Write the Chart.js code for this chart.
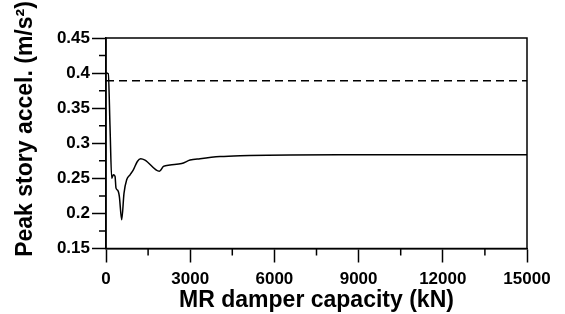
<!DOCTYPE html>
<html>
<head>
<meta charset="utf-8">
<script src="https://cdn.jsdelivr.net/npm/chart.js@4.4.1/dist/chart.umd.min.js"></script>
<style>
html,body{margin:0;padding:0;background:#fff;}
#wrap{width:565px;height:314px;position:relative;}
</style>
</head>
<body>
<div id="wrap"><canvas id="c" width="565" height="314"></canvas></div>
<script>
// Data (MR damper capacity in kN, peak story acceleration in m/s^2)
const capacityKN = [0, 82, 143, 203, 261, 321, 357, 417, 476, 559, 642, 737, 856, 974, 1117, 1236, 1390, 1902, 2045, 2282, 2697, 2995, 3351, 4064, 4777, 6560, 9000, 12000, 15000];
const peakAccel = [0.400, 0.399, 0.324, 0.250, 0.255, 0.253, 0.236, 0.233, 0.224, 0.191, 0.229, 0.248, 0.255, 0.262, 0.274, 0.278, 0.276, 0.260, 0.267, 0.269, 0.271, 0.276, 0.278, 0.281, 0.2823, 0.2833, 0.2835, 0.2835, 0.2835];
const uncontrolledX = [0, 15000];
const uncontrolledY = [0.389, 0.389];
const xTickValues = [0, 3000, 6000, 9000, 12000, 15000];
const yTickValues = [0.15, 0.2, 0.25, 0.3, 0.35, 0.4, 0.45];
const yTickLabels = ['0.15', '0.2', '0.25', '0.3', '0.35', '0.4', '0.45'];
const xTitle = 'MR damper capacity (kN)';
const yTitle = 'Peak story accel. (m/s\u00B2)';

const FONT = '"Liberation Sans", Arial, sans-serif';

const framePlugin = {
  id: 'frame',
  afterDraw(chart) {
    const ctx = chart.ctx;
    const a = chart.chartArea;
    const xs = chart.scales.x, ys = chart.scales.y;
    ctx.save();
    ctx.strokeStyle = '#000';
    ctx.lineWidth = 1.5;
    ctx.strokeRect(a.left, a.top, a.right - a.left, a.bottom - a.top);
    // minor ticks
    ctx.beginPath();
    for (let i = 0; i < xTickValues.length - 1; i++) {
      const v = (xTickValues[i] + xTickValues[i + 1]) / 2;
      const px = xs.getPixelForValue(v);
      ctx.moveTo(px, a.bottom);
      ctx.lineTo(px, a.bottom + 7);
    }
    for (let i = 0; i < yTickValues.length - 1; i++) {
      const v = (yTickValues[i] + yTickValues[i + 1]) / 2;
      const py = ys.getPixelForValue(v);
      ctx.moveTo(a.left, py);
      ctx.lineTo(a.left - 7, py);
    }
    ctx.stroke();
    // y title
    ctx.fillStyle = '#000';
    ctx.font = 'bold 23px ' + FONT;
    ctx.textAlign = 'center';
    ctx.textBaseline = 'middle';
    ctx.translate(26, 129);
    ctx.rotate(-Math.PI / 2);
    ctx.fillText(yTitle, 0, 0);
    ctx.restore();
  }
};

new Chart(document.getElementById('c'), {
  type: 'scatter',
  data: {
    datasets: [
      {
        data: capacityKN.map((x, i) => ({x: x, y: peakAccel[i]})),
        showLine: true,
        borderColor: '#000',
        borderWidth: 1.5,
        pointRadius: 0,
        tension: 0.3,
        cubicInterpolationMode: 'monotone'
      },
      {
        data: uncontrolledX.map((x, i) => ({x: x, y: uncontrolledY[i]})),
        showLine: true,
        borderColor: '#000',
        borderWidth: 1.5,
        borderDash: [8, 5],
        pointRadius: 0
      }
    ]
  },
  options: {
    responsive: false,
    animation: false,
    devicePixelRatio: 1,
    layout: {padding: {top: 38, right: 38, left: 0, bottom: 0}},
    plugins: {legend: {display: false}, tooltip: {enabled: false}},
    scales: {
      x: {
        type: 'linear',
        min: 0, max: 15000,
        afterBuildTicks: s => { s.ticks = xTickValues.map(v => ({value: v})); },
        afterFit: s => { s.height = 65.5; },
        grid: {drawOnChartArea: false, tickLength: 14, tickWidth: 1.5, tickColor: '#000'},
        border: {display: true, color: '#000', width: 1.5},
        ticks: {
          color: '#000', padding: 7, maxRotation: 0, autoSkip: false,
          font: {family: FONT, size: 17, weight: 'bold'},
          callback: v => String(v)
        },
        title: {
          display: true, text: xTitle, color: '#000',
          font: {family: FONT, size: 23, weight: 'bold', lineHeight: 1.2},
          padding: {top: 0, bottom: 0}
        }
      },
      y: {
        type: 'linear',
        min: 0.15, max: 0.45,
        afterBuildTicks: s => { s.ticks = yTickValues.map(v => ({value: v})); },
        afterFit: s => { s.width = 106; },
        grid: {drawOnChartArea: false, tickLength: 14, tickWidth: 1.5, tickColor: '#000'},
        border: {display: true, color: '#000', width: 1.5},
        ticks: {
          color: '#000', padding: 2, autoSkip: false,
          font: {family: FONT, size: 17, weight: 'bold'},
          callback: (v, i) => yTickLabels[i]
        }
      }
    }
  },
  plugins: [framePlugin]
});
</script>
</body>
</html>
